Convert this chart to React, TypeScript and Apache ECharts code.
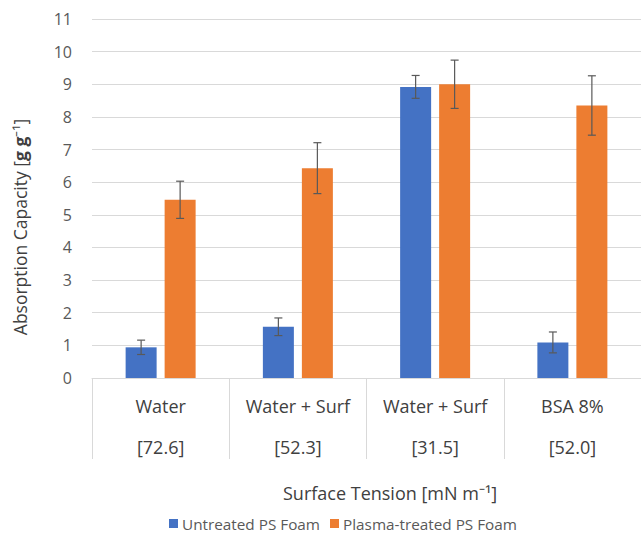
import React, { useEffect, useRef } from "react";
import * as echarts from "echarts";

const solutions = ["Water", "Water + Surf", "Water + Surf", "BSA 8%"];
const tensions = ["[72.6]", "[52.3]", "[31.5]", "[52.0]"];
const untreated = [0.94, 1.57, 8.92, 1.09];
const untreatedErr = [0.22, 0.27, 0.35, 0.32];
const plasma = [5.46, 6.43, 9.0, 8.35];
const plasmaErr = [0.57, 0.78, 0.74, 0.91];
const seriesNames = ["Untreated PS Foam", "Plasma-treated PS Foam"];

const FONT = "Open Sans";
const BAR_W = 31;
const BAR_GAP = 8;

function errorSeries(vals: number[], errs: number[], offset: number) {
  return {
    type: "custom",
    silent: true,
    z: 10,
    data: vals.map((v, i) => [i, v, errs[i]]),
    encode: { x: 0, y: 1 },
    renderItem: (params: any, api: any) => {
      const i = api.value(0);
      const v = api.value(1);
      const e = api.value(2);
      const top = api.coord([i, v + e]);
      const bot = api.coord([i, v - e]);
      const x = top[0] + offset;
      const cap = 4;
      const style = { stroke: "#595959", lineWidth: 1.2 };
      return {
        type: "group",
        children: [
          { type: "line", shape: { x1: x, y1: top[1], x2: x, y2: bot[1] }, style },
          { type: "line", shape: { x1: x - cap, y1: top[1], x2: x + cap, y2: top[1] }, style },
          { type: "line", shape: { x1: x - cap, y1: bot[1], x2: x + cap, y2: bot[1] }, style },
        ],
      };
    },
  };
}

export default function App() {
  const ref = useRef<HTMLDivElement>(null);
  useEffect(() => {
    if (!ref.current) return;
    const chart = echarts.init(ref.current, null, { renderer: "svg" });
    const categories = solutions.map((s, i) => s + "\n" + tensions[i]);
    const off = BAR_GAP / 2 + BAR_W / 2;
    chart.setOption({
      animation: false,
      backgroundColor: "#ffffff",
      textStyle: { fontFamily: FONT },
      grid: { left: 92, top: 19, width: 556, height: 359, containLabel: false },
      legend: {
        left: 164,
        top: 511,
        itemWidth: 9,
        itemHeight: 9,
        itemGap: 10,
        icon: "rect",
        textStyle: { fontFamily: FONT, fontSize: 15.3, color: "#595959", padding: [0, 0, 0, -1] },
        data: seriesNames,
      },
      xAxis: {
        type: "category",
        data: categories,
        axisLine: { show: true, lineStyle: { color: "#d9d9d9", width: 1 } },
        axisTick: { show: true, length: 81, alignWithLabel: false, interval: 0, lineStyle: { color: "#d9d9d9" } },
        axisLabel: {
          interval: 0,
          fontFamily: FONT,
          fontSize: 18,
          color: "#404040",
          lineHeight: 41,
          margin: 7,
        },
      },
      yAxis: {
        type: "value",
        min: 0,
        max: 11,
        interval: 1,
        axisLine: { show: false },
        axisTick: { show: false },
        splitLine: { lineStyle: { color: "#d9d9d9", width: 1 } },
        axisLabel: { fontFamily: FONT, fontSize: 16, color: "#595959", margin: 20 },
      },
      graphic: [
        {
          type: "text",
          x: 390,
          y: 493,
          style: {
            text: "Surface Tension [mN m⁻¹]",
            fontFamily: FONT,
            fontSize: 18,
            fill: "#404040",
            textAlign: "center",
            textVerticalAlign: "middle",
          },
        },
        {
          type: "text",
          x: 20,
          y: 227,
          rotation: Math.PI / 2,
          style: {
            text: "Absorption Capacity [{b|g g}⁻¹]",
            fontFamily: FONT,
            fontSize: 17.5,
            fill: "#404040",
            textAlign: "center",
            textVerticalAlign: "middle",
            rich: { b: { fontFamily: FONT, fontSize: 17.5, fontWeight: "bold", fill: "#404040" } },
          },
        },
      ],
      series: [
        {
          name: seriesNames[0],
          type: "bar",
          data: untreated,
          barWidth: BAR_W,
          barGap: (BAR_GAP / BAR_W) * 100 + "%",
          itemStyle: { color: "#4472C4" },
        },
        {
          name: seriesNames[1],
          type: "bar",
          data: plasma,
          barWidth: BAR_W,
          itemStyle: { color: "#ED7D31" },
        },
        errorSeries(untreated, untreatedErr, -off),
        errorSeries(plasma, plasmaErr, off),
      ],
    });
    return () => chart.dispose();
  }, []);
  return (
    <div
      ref={ref}
      style={{ width: 641, height: 539, position: "absolute", left: 0, top: 0 }}
    />
  );
}
